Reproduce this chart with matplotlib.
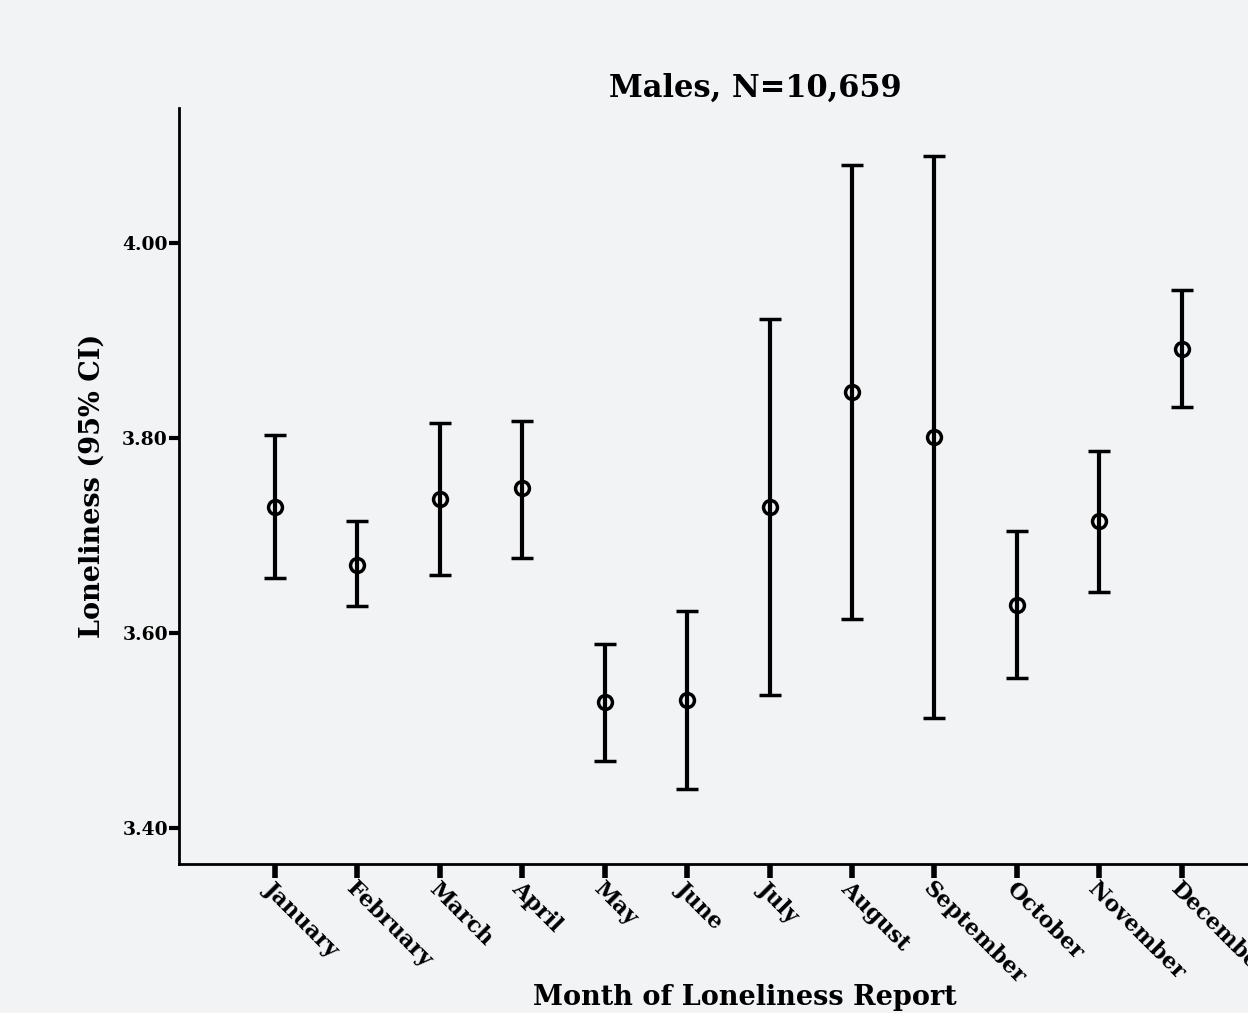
import matplotlib.pyplot as plt

months = ['January', 'February', 'March', 'April', 'May', 'June',
          'July', 'August', 'September', 'October', 'November', 'December']
means = [3.729, 3.670, 3.737, 3.748, 3.529, 3.531,
         3.729, 3.847, 3.801, 3.629, 3.715, 3.891]
upper = [3.803, 3.715, 3.815, 3.817, 3.589, 3.622,
         3.922, 4.080, 4.089, 3.704, 3.786, 3.951]
lower = [3.656, 3.627, 3.659, 3.677, 3.469, 3.440,
         3.536, 3.614, 3.513, 3.554, 3.642, 3.831]
y_ticks = [3.40, 3.60, 3.80, 4.00]

bg = '#f2f3f5'
plt.rcParams['font.family'] = ['DejaVu Serif']
plt.rcParams['font.weight'] = 'bold'

fig = plt.figure(figsize=(12.48, 10.13), dpi=100, facecolor=bg)
# axes runs past the right edge of the figure, like the original
ax = fig.add_axes([179 / 1248, 1 - 864 / 1013, (1331 - 179) / 1248, (864 - 108) / 1013])
ax.set_facecolor(bg)

x = list(range(len(months)))
err = [[m - l for m, l in zip(means, lower)], [u - m for m, u in zip(means, upper)]]
ax.errorbar(x, means, yerr=err, fmt='o', color='black', mfc='none', mec='black',
            ms=10, mew=2.5, elinewidth=3, capsize=8, capthick=3)

ax.set_xlim(-1.164, 12.81)
ax.set_ylim(3.363, 4.138)
ax.set_yticks(y_ticks)
ax.set_yticklabels([f'{v:.2f}' for v in y_ticks], fontsize=13.5, fontweight='bold')
ax.set_xticks(x)
ax.set_xticklabels(months, rotation=-45, ha='left', va='top', rotation_mode='anchor',
                   fontsize=16, fontweight='bold')

for s in ['top', 'right']:
    ax.spines[s].set_visible(False)
for s in ['left', 'bottom']:
    ax.spines[s].set_linewidth(2)
ax.tick_params(axis='y', direction='out', length=7, width=3, pad=1)
ax.tick_params(axis='x', direction='out', length=10, width=4, pad=0)

ax.set_ylabel('Loneliness (95% CI)', fontsize=19.5, fontweight='bold', labelpad=12)
ax.set_title('Males, N=10,659', fontsize=22, fontweight='bold', pad=8)
fig.text(745 / 1248, 1 - 997 / 1013, 'Month of Loneliness Report', ha='center', va='center',
         fontsize=19.5, fontweight='bold')

fig.savefig('out.png', dpi=100, facecolor=bg)
